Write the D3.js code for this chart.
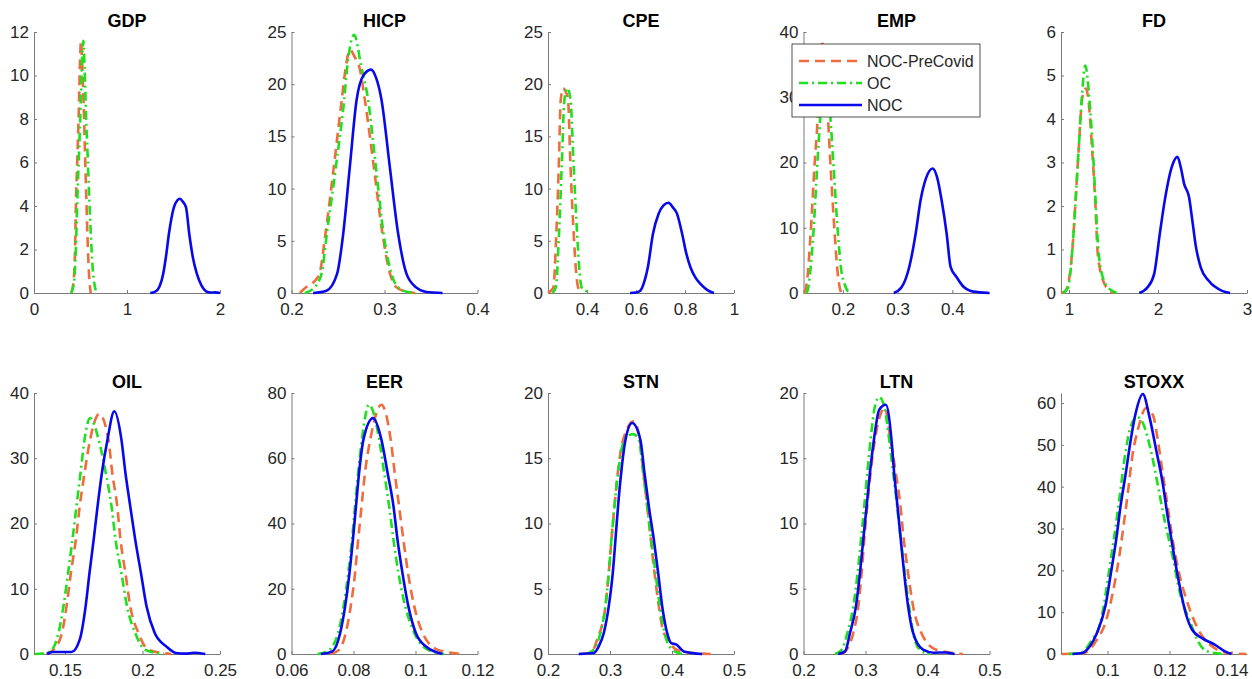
<!DOCTYPE html>
<html>
<head>
<meta charset="utf-8">
<script src="https://cdn.jsdelivr.net/npm/d3@7"></script>
<style>
  html, body { margin: 0; padding: 0; background: #fff; }
  svg { display: block; font-family: "Liberation Sans", Arial, Helvetica, sans-serif; }
</style>
</head>
<body>
<svg id="chart" width="1252" height="679"></svg>
<script>
// Posterior densities of each variable's parameter, as [x, density] pairs.
// Series order in every panel: NOC-PreCovid, OC, NOC.

const gdpPre = [[0.40,0],[0.425,0.5],[0.44,1.8],[0.452,4.3],[0.466,6.2],[0.48,8.1],[0.493,10.4],[0.505,11.57],[0.52,10.3],[0.538,8.1],[0.55,6.2],[0.563,4.3],[0.575,2.6],[0.59,1.0],[0.61,0]];
const gdpOC  = [[0.40,0],[0.43,0.5],[0.45,2.0],[0.466,4.3],[0.482,6.2],[0.498,8.1],[0.514,10.4],[0.53,11.6],[0.545,10.2],[0.56,8.1],[0.578,6.2],[0.595,4.3],[0.612,2.6],[0.63,1.2],[0.65,0.4],[0.674,0]];
const gdpNOC = [[1.25,0],[1.30,0.05],[1.35,0.3],[1.39,0.9],[1.42,1.7],[1.45,2.7],[1.505,3.95],[1.54,4.25],[1.57,4.33],[1.60,4.2],[1.634,3.95],[1.67,2.7],[1.71,1.6],[1.75,0.9],[1.80,0.35],[1.85,0.08],[1.90,0.02],[1.95,0.03],[2.0,0]];

const hicpPre = [[0.209,0],[0.215,0.5],[0.222,0.9],[0.230,1.83],[0.2365,5.67],[0.2455,12.08],[0.254,18.49],[0.2585,21.7],[0.2627,23.3],[0.268,22.6],[0.2735,21.44],[0.2789,18.49],[0.2885,12.08],[0.2978,5.67],[0.306,1.83],[0.313,0.54],[0.322,0.15],[0.3326,0]];
const hicpOC  = [[0.2143,0],[0.2232,0.4],[0.2323,1.83],[0.238,5.67],[0.2477,12.08],[0.2566,18.49],[0.260,21.7],[0.2674,24.74],[0.275,21.7],[0.2824,18.49],[0.2907,12.08],[0.299,5.67],[0.3075,1.83],[0.3147,0.54],[0.325,0.1],[0.334,0]];
const hicpNOC = [[0.2233,0],[0.2376,0.22],[0.249,1.83],[0.2556,5.67],[0.2627,12.08],[0.270,18.49],[0.277,20.8],[0.2855,21.4],[0.291,20.6],[0.2968,18.49],[0.3057,12.08],[0.3147,5.67],[0.3237,1.83],[0.334,0.54],[0.345,0.1],[0.3624,0]];

const cpePre = [[0.24,0],[0.255,0.3],[0.262,0.54],[0.274,5.67],[0.284,12.08],[0.292,18.49],[0.3016,19.62],[0.312,19.3],[0.322,18.49],[0.332,12.08],[0.345,5.67],[0.355,2.0],[0.363,0.54],[0.377,0]];
const cpeOC  = [[0.258,0],[0.272,0.54],[0.285,5.67],[0.296,12.08],[0.307,18.49],[0.319,19.62],[0.332,18.49],[0.345,12.08],[0.359,5.67],[0.369,2.0],[0.377,0.54],[0.39,0.25],[0.40,0.15],[0.411,0]];
const cpeNOC = [[0.5755,0],[0.60,0.05],[0.617,0.22],[0.635,1.2],[0.648,2.47],[0.669,5.67],[0.692,7.6],[0.712,8.4],[0.733,8.65],[0.75,8.2],[0.767,7.6],[0.788,5.67],[0.805,3.8],[0.822,2.47],[0.842,1.5],[0.863,0.87],[0.89,0.3],[0.918,0]];

const empPre = [[0.129,0],[0.134,1.5],[0.141,9.08],[0.148,19.33],[0.154,27.03],[0.157,33],[0.1604,38.7],[0.164,37.5],[0.168,33],[0.1726,27.03],[0.1775,19.33],[0.185,9.08],[0.19,3.5],[0.193,1.38],[0.197,0]];
const empOC  = [[0.133,0],[0.136,0.5],[0.140,3.0],[0.146,9.08],[0.153,19.33],[0.1586,27.03],[0.162,32],[0.167,35.5],[0.172,32],[0.177,27.03],[0.183,19.33],[0.191,9.08],[0.197,3.5],[0.203,1.38],[0.208,0.4],[0.212,0]];
const empNOC = [[0.293,0],[0.3072,0.87],[0.3212,3.95],[0.333,9.08],[0.342,14.2],[0.352,17.6],[0.364,19.08],[0.372,17.8],[0.3805,14.2],[0.3897,9.08],[0.397,3.95],[0.408,2.41],[0.42,1.0],[0.4325,0.36],[0.45,0.1],[0.468,0]];

const fdPre = [[0.91,0],[0.96,0.05],[0.99,0.2],[1.037,0.98],[1.074,2.13],[1.108,3.28],[1.15,4.5],[1.19,4.7],[1.22,4.4],[1.26,3.28],[1.294,2.13],[1.32,0.98],[1.344,0.59],[1.38,0.3],[1.43,0.1],[1.51,0]];
const fdOC  = [[0.933,0],[0.99,0.13],[1.037,0.98],[1.074,2.13],[1.108,3.28],[1.142,4.44],[1.182,5.23],[1.23,4.44],[1.268,3.28],[1.298,2.13],[1.33,0.98],[1.354,0.59],[1.39,0.3],[1.436,0.13],[1.547,0]];
const fdNOC = [[1.79,0],[1.883,0.13],[1.957,0.44],[2.02,1.36],[2.076,2.13],[2.155,2.9],[2.218,3.13],[2.26,2.85],[2.292,2.52],[2.348,2.21],[2.39,1.6],[2.423,1.1],[2.48,0.59],[2.57,0.28],[2.72,0.05],[2.81,0]];

const oilPre = [[0.138,0],[0.1426,0.66],[0.148,3.22],[0.151,7.31],[0.1538,12.41],[0.157,17.52],[0.1595,22.63],[0.1626,27.74],[0.1662,32.85],[0.1721,36.8],[0.178,32.85],[0.1805,27.74],[0.1837,22.63],[0.1858,17.52],[0.189,12.41],[0.1921,7.31],[0.1974,3.22],[0.2037,0.66],[0.2184,0]];
const oilOC  = [[0.1306,0],[0.138,0.2],[0.1416,0.66],[0.1458,3.22],[0.149,7.31],[0.152,12.41],[0.1548,17.52],[0.1574,22.63],[0.160,27.74],[0.1626,32.85],[0.1662,36.17],[0.1717,32.85],[0.1763,27.74],[0.180,22.63],[0.1826,17.52],[0.1864,12.41],[0.19,7.31],[0.1953,3.22],[0.2016,0.66],[0.214,0]];
const oilNOC = [[0.1384,0],[0.142,0.3],[0.150,0.3],[0.1542,0.3],[0.1595,2.2],[0.1633,7.31],[0.1658,12.41],[0.1685,17.52],[0.171,22.63],[0.1738,27.74],[0.1774,32.85],[0.1818,37.2],[0.1864,32.85],[0.189,27.74],[0.1921,22.63],[0.1953,17.52],[0.199,12.41],[0.2026,7.31],[0.2079,3.22],[0.2153,1.17],[0.2216,0.15],[0.228,0.05],[0.233,0.2],[0.2405,0]];

const eerPre = [[0.0727,0],[0.0754,1.33],[0.0775,6.44],[0.0791,14.6],[0.0805,24.8],[0.0815,35.0],[0.0826,45.3],[0.0837,55.5],[0.0854,65.7],[0.089,76.4],[0.092,65.7],[0.0933,55.5],[0.0947,45.3],[0.0961,35.0],[0.0976,24.8],[0.0996,14.6],[0.1023,6.44],[0.1071,1.33],[0.1152,0]];
const eerOC  = [[0.0684,0],[0.0716,0.82],[0.075,6.44],[0.0768,14.6],[0.0783,24.8],[0.0795,35.0],[0.0805,45.3],[0.0815,55.5],[0.0827,65.7],[0.085,76.4],[0.0883,65.7],[0.0899,55.5],[0.0915,45.3],[0.0929,35.0],[0.0945,24.8],[0.0967,14.6],[0.0996,6.44],[0.1039,1.33],[0.1092,0]];
const eerNOC = [[0.0695,0],[0.0732,0.82],[0.0757,6.44],[0.0773,14.6],[0.0787,24.8],[0.0798,35.0],[0.0808,45.3],[0.0818,55.5],[0.0832,65.7],[0.0863,72.3],[0.089,65.7],[0.091,55.5],[0.0929,45.3],[0.0942,35.0],[0.0958,24.8],[0.0977,14.6],[0.1001,6.44],[0.1033,2.35],[0.1087,0]];

const stnPre = [[0.252,0],[0.27,0.1],[0.2792,1.1],[0.2926,3.65],[0.298,6.21],[0.3023,8.76],[0.3072,11.32],[0.3125,13.87],[0.3212,16.42],[0.3384,17.83],[0.3481,16.42],[0.354,13.87],[0.36,11.32],[0.3718,6.21],[0.3788,3.65],[0.3869,1.61],[0.4138,0.2],[0.4623,0]];
const stnOC  = [[0.262,0],[0.2738,0.33],[0.2845,1.61],[0.2926,3.65],[0.298,6.21],[0.3023,8.76],[0.3072,11.32],[0.313,13.87],[0.3233,16.42],[0.3373,16.85],[0.3465,16.42],[0.3535,13.87],[0.36,11.32],[0.3664,8.76],[0.3734,6.21],[0.3804,3.65],[0.388,1.61],[0.4003,0.33],[0.4165,0]];
const stnNOC = [[0.2495,0],[0.2738,0.08],[0.2819,0.59],[0.29,1.61],[0.298,3.65],[0.3045,6.21],[0.3088,8.76],[0.313,11.32],[0.318,13.87],[0.325,16.42],[0.3357,17.7],[0.349,16.42],[0.3556,13.87],[0.3626,11.32],[0.3707,8.76],[0.3777,6.21],[0.3842,3.65],[0.3922,1.61],[0.3987,0.84],[0.4073,0.72],[0.419,0.2],[0.4488,0]];

const ltnPre = [[0.262,0],[0.2696,0.33],[0.2803,1.61],[0.2884,3.65],[0.2937,6.21],[0.298,8.76],[0.3028,11.32],[0.3082,13.87],[0.3152,16.42],[0.3312,18.85],[0.3403,16.42],[0.3489,13.87],[0.3564,11.32],[0.3618,8.76],[0.3687,6.21],[0.3768,3.65],[0.3901,1.61],[0.4142,0.33],[0.4571,0]];
const ltnOC  = [[0.2509,0],[0.2616,0.33],[0.2707,1.61],[0.2803,3.65],[0.2873,6.21],[0.2927,8.76],[0.298,11.32],[0.3028,13.87],[0.3082,16.42],[0.3152,18.98],[0.3221,19.69],[0.3302,18.98],[0.3382,16.42],[0.3446,13.87],[0.351,11.32],[0.3569,8.76],[0.3634,6.21],[0.3703,3.65],[0.3768,1.61],[0.3875,0.33],[0.4035,0]];
const ltnNOC = [[0.2562,0],[0.267,0.2],[0.275,1.61],[0.2846,3.65],[0.2911,6.21],[0.2964,8.76],[0.3018,11.32],[0.3071,13.87],[0.3136,16.42],[0.3221,18.72],[0.3328,19.1],[0.3419,16.42],[0.3462,13.87],[0.3516,11.32],[0.3569,8.76],[0.3623,6.21],[0.3687,3.65],[0.3768,1.61],[0.3928,0.33],[0.41,0.1],[0.43,0.12],[0.4437,0]];

const stoxxPre = [[0.0853,0],[0.0924,0.24],[0.0966,3.43],[0.0993,7.41],[0.1019,15.38],[0.1038,23.35],[0.1053,31.31],[0.1067,39.28],[0.108,47.25],[0.1098,53.63],[0.1125,58.8],[0.1148,56.81],[0.1162,51.23],[0.1178,43.27],[0.1194,35.3],[0.121,27.33],[0.1231,19.36],[0.1262,11.39],[0.1299,5.02],[0.1337,1.83],[0.1389,0.24],[0.1448,0]];
const stoxxOC  = [[0.0876,0],[0.0913,0.24],[0.095,3.43],[0.0977,7.41],[0.0996,15.38],[0.1012,23.35],[0.1028,31.31],[0.1042,39.28],[0.1056,47.25],[0.1072,53.63],[0.1095,56.65],[0.1114,55.22],[0.1144,47.25],[0.1165,39.28],[0.1186,31.31],[0.121,23.35],[0.1231,15.38],[0.1268,7.41],[0.1289,3.43],[0.1321,0.64],[0.1379,0]];
const stoxxNOC = [[0.0887,0],[0.0919,0.24],[0.0943,1.83],[0.0966,5.02],[0.0993,11.39],[0.1011,19.36],[0.1028,27.33],[0.1042,35.3],[0.1059,43.27],[0.1075,51.23],[0.1091,57.6],[0.1114,62.15],[0.1135,56.8],[0.1157,48.8],[0.1178,40.9],[0.1194,32.9],[0.121,25.7],[0.1231,16.9],[0.1252,9.8],[0.1273,5.8],[0.1305,3.8],[0.1347,2.2],[0.1379,0.64],[0.14,0]];

const variables   = ["GDP", "HICP", "CPE", "EMP", "FD", "OIL", "EER", "STN", "LTN", "STOXX"];
const seriesNames = ["NOC-PreCovid", "OC", "NOC"];

const xDomains = [[0, 2], [0.2, 0.4], [0.24, 1], [0.128, 0.468], [0.91, 3],
                  [0.13, 0.25], [0.06, 0.12], [0.2, 0.5], [0.2, 0.5], [0.085, 0.145]];
const yDomains = [[0, 12], [0, 25], [0, 25], [0, 40], [0, 6],
                  [0, 40], [0, 80], [0, 20], [0, 20], [0, 62.4]];
const xTicks = [[0, 1, 2], [0.2, 0.3, 0.4], [0.4, 0.6, 0.8, 1], [0.2, 0.3, 0.4], [1, 2, 3],
                [0.15, 0.2, 0.25], [0.06, 0.08, 0.1, 0.12], [0.2, 0.3, 0.4, 0.5], [0.2, 0.3, 0.4, 0.5], [0.1, 0.12, 0.14]];
const yTicks = [[0, 2, 4, 6, 8, 10, 12], [0, 5, 10, 15, 20, 25], [0, 5, 10, 15, 20, 25], [0, 10, 20, 30, 40], [0, 1, 2, 3, 4, 5, 6],
                [0, 10, 20, 30, 40], [0, 20, 40, 60, 80], [0, 5, 10, 15, 20], [0, 5, 10, 15, 20], [0, 10, 20, 30, 40, 50, 60]];

const densities = [
  [gdpPre, gdpOC, gdpNOC], [hicpPre, hicpOC, hicpNOC], [cpePre, cpeOC, cpeNOC],
  [empPre, empOC, empNOC], [fdPre, fdOC, fdNOC], [oilPre, oilOC, oilNOC],
  [eerPre, eerOC, eerNOC], [stnPre, stnOC, stnNOC], [ltnPre, ltnOC, ltnNOC],
  [stoxxPre, stoxxOC, stoxxNOC]
];

// ---- layout & style ----
const colLeft = [34, 291.5, 548, 803.5, 1061];
const rowTop  = [32, 393];
const plotW = 186, plotH = 261;
const axisColor = "#7a7a7a", textColor = "#262626";
const styles = [
  { color: "#ef6c3c", dash: "10,6",      width: 2.6 },
  { color: "#1ee01e", dash: "9,4,2,4",   width: 2.6 },
  { color: "#0808ec", dash: null,        width: 2.6 }
];
const fmt = d => String(+d.toFixed(6));

const svg = d3.select("#chart");
svg.append("rect").attr("width", 1252).attr("height", 679).attr("fill", "#fff");

variables.forEach((name, i) => {
  const row = Math.floor(i / 5), col = i % 5;
  const g = svg.append("g").attr("transform", `translate(${colLeft[col]},${rowTop[row]})`);

  const x = d3.scaleLinear().domain(xDomains[i]).range([0, plotW]);
  const y = d3.scaleLinear().domain(yDomains[i]).range([plotH, 0]);

  const xAxis = g.append("g").attr("transform", `translate(0,${plotH})`)
    .call(d3.axisBottom(x).tickValues(xTicks[i]).tickFormat(fmt)
      .tickSizeInner(-3).tickSizeOuter(0).tickPadding(10));
  const yAxis = g.append("g")
    .call(d3.axisLeft(y).tickValues(yTicks[i]).tickFormat(fmt)
      .tickSizeInner(-3).tickSizeOuter(0).tickPadding(5));

  [xAxis, yAxis].forEach(a => {
    a.select(".domain").attr("stroke", axisColor).attr("stroke-width", 1);
    a.selectAll(".tick line").attr("stroke", axisColor);
    a.selectAll(".tick text").attr("fill", textColor)
      .style("font-size", "17px").style("font-family", '"Liberation Sans", Arial, Helvetica, sans-serif');
  });

  g.append("text")
    .attr("x", plotW / 2).attr("y", -5)
    .attr("text-anchor", "middle")
    .style("font-size", "18px").style("font-weight", "bold")
    .attr("fill", "#000")
    .text(name);

  const line = d3.line()
    .x(d => x(d[0])).y(d => y(d[1]))
    .curve(d3.curveMonotoneX);

  densities[i].forEach((pts, s) => {
    g.append("path")
      .datum(pts)
      .attr("d", line)
      .attr("fill", "none")
      .attr("stroke", styles[s].color)
      .attr("stroke-width", styles[s].width)
      .attr("stroke-dasharray", styles[s].dash)
      .attr("stroke-linejoin", "round");
  });

  // legend sits in the EMP panel
  if (name === "EMP") {
    const lg = g.append("g").attr("transform", "translate(-11.5,12)");
    lg.append("rect").attr("width", 188).attr("height", 73)
      .attr("fill", "#fff").attr("stroke", "#262626").attr("stroke-width", 0.8);
    seriesNames.forEach((label, s) => {
      const cy = 17 + s * 22;
      lg.append("line").attr("x1", 7).attr("x2", 70).attr("y1", cy).attr("y2", cy)
        .attr("stroke", styles[s].color).attr("stroke-width", styles[s].width)
        .attr("stroke-dasharray", styles[s].dash);
      lg.append("text").attr("x", 75).attr("y", cy).attr("dy", "0.35em")
        .attr("fill", textColor).style("font-size", "16px").text(label);
    });
  }
});
</script>
</body>
</html>
